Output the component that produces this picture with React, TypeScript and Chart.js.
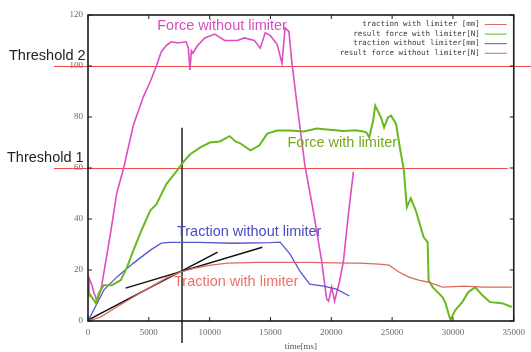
import React, { useEffect, useRef } from "react";
import { Chart, registerables } from "chart.js";
Chart.register(...registerables);

// ---- axis ticks ----
const xTickValues = [0, 5000, 10000, 15000, 20000, 25000, 30000, 35000];
const yTickValues = [0, 20, 40, 60, 80, 100, 120];

// ---- series: traction with limiter [mm] ----
const tracLimT = [0, 1060, 2360, 3740, 5130, 6430, 7570, 8790, 10090, 11480, 14000, 18000, 21490, 22300, 23930, 24750, 25560, 26370, 27190, 28000, 29140, 31010, 32400, 34840];
const tracLimV = [0, 1.6, 5.5, 9.4, 13.3, 16.8, 19.2, 20.7, 21.9, 22.7, 23, 23, 22.7, 22.7, 22.3, 21.9, 19.2, 17.2, 16, 15.2, 13.3, 13.7, 13.3, 13.3];

// ---- series: result force with limiter [N] ----
const forceLimT = [0, 80, 650, 900, 1300, 1950, 2690, 3180, 3740, 4400, 5130, 5620, 6430, 7250, 7810, 8380, 9200, 10010, 10830, 11640, 12130, 12540, 13350, 14080, 14730, 15550, 16610, 17750, 18800, 19860, 21000, 22000, 22630, 22870, 23120, 23440, 23610, 24090, 24340, 24660, 24910, 25320, 25640, 25970, 26210, 26540, 26940, 27350, 27600, 27920, 28000, 28330, 29140, 29390, 29790, 30200, 30770, 31260, 31830, 32400, 33050, 34030, 34840];
const forceLimV = [12, 11, 7, 11, 14, 14, 16, 20.7, 27.8, 35.6, 43.4, 45.7, 53.6, 58.6, 62.2, 65.3, 68, 70, 70.4, 72.5, 70.4, 69.6, 66.9, 68.8, 73.5, 74.7, 74.7, 74.3, 75.5, 75, 74.5, 74.8, 74.3, 74, 72, 78.6, 84.5, 79.8, 75.9, 79.8, 80.5, 77.4, 68, 59, 44.6, 48.1, 43.4, 36.8, 32.8, 30.9, 16, 13.3, 9.4, 7, 0.4, 4.3, 7.4, 11.3, 13.3, 10.2, 7.4, 7, 5.5];

// ---- series: traction without limiter [mm] ----
const tracNoLimT = [0, 700, 1300, 2360, 3740, 5130, 6020, 6760, 9000, 12000, 15000, 15790, 16610, 17420, 18230, 19370, 20430, 21490];
const tracNoLimV = [0, 6.5, 12.1, 17.2, 22.7, 27.8, 30.5, 30.8, 30.8, 30.5, 30.7, 30.9, 26.2, 19.6, 14.5, 13.7, 12.5, 9.8];

// ---- series: result force without limiter [N] ----
const forceNoLimT = [0, 80, 330, 490, 730, 1060, 1870, 2360, 2930, 3740, 4560, 5130, 5620, 6020, 6430, 6840, 7400, 8060, 8250, 8380, 8500, 8630, 9000, 9600, 10420, 11230, 12290, 12860, 13680, 14160, 14570, 14980, 15550, 15950, 16200, 16520, 16770, 17180, 17830, 18560, 19210, 19620, 19780, 20030, 20270, 20680, 21000, 21410, 21820];
const forceNoLimV = [10, 17, 14, 11, 8, 12, 35, 50, 60, 77, 88, 94, 100, 105.5, 108, 109.5, 109, 109.5, 107, 98.5, 106, 105, 108, 111, 112.5, 110, 110, 111, 110, 107, 113, 112, 108.5, 101, 115, 113.5, 101, 85, 61, 42, 23.5, 8.6, 7.8, 13.3, 7.8, 15.6, 23.5, 42, 58.6];

// ---- construction lines (tangents and marker) ----
const tangent1T = [0, 10660];
const tangent1V = [0.4, 27];
const tangent2T = [3090, 14330];
const tangent2V = [12.9, 28.9];
const markerT = [7730, 7730];
const markerV = [75.8, -8.6];

// ---- thresholds ----
const thresholdValues = [100, 60];
const thresholdLabels = ["Threshold 2", "Threshold 1"];

// ---- legend ----
const legendLabels = [
  "traction with limiter [mm]",
  "result force with limiter[N]",
  "traction without limiter[mm]",
  "result force without limiter[N]",
];

// ---- in-plot annotations [text, x(ms), y(value)] ----
const noteTexts = ["Force without limiter", "Force with limiter", "Traction without limiter", "Traction with limiter"];
const noteX = [5690, 16400, 7310, 7070];
const noteY = [115.7, 69.8, 34.9, 15.3];

const COL_TRAC_LIM = "#dd6a62";
const COL_FORCE_LIM = "#68b820";
const COL_TRAC_NOLIM = "#5656d0";
const COL_FORCE_NOLIM = "#e04cc2";
const seriesColors = [COL_TRAC_LIM, COL_FORCE_LIM, COL_TRAC_NOLIM, COL_FORCE_NOLIM];
const noteColors = ["#d64ebf", "#76a81c", "#4a4ac6", "#f07068"];

const pts = (t: number[], v: number[]) => t.map((x, i) => ({ x, y: v[i] }));

const decor = {
  id: "decor",
  beforeDatasetsDraw(chart: any) {
    const { ctx, chartArea, scales, width } = chart;
    const y = scales.y;
    ctx.save();
    ctx.strokeStyle = "#f04a48";
    ctx.lineWidth = 1.2;
    thresholdValues.forEach((v, i) => {
      const py = Math.round(y.getPixelForValue(v)) + 0.5;
      ctx.beginPath();
      ctx.moveTo(54, py);
      ctx.lineTo(i === 0 ? width : chartArea.right - 6, py);
      ctx.stroke();
    });
    ctx.restore();
  },
  afterDatasetsDraw(chart: any) {
    const { ctx, chartArea, scales } = chart;
    const x = scales.x;
    const y = scales.y;
    ctx.save();
    // frame
    ctx.strokeStyle = "#1a1a1a";
    ctx.lineWidth = 1.6;
    ctx.strokeRect(chartArea.left, chartArea.top, chartArea.right - chartArea.left, chartArea.bottom - chartArea.top);
    // inward ticks
    ctx.lineWidth = 1;
    ctx.beginPath();
    xTickValues.forEach((v) => {
      const px = x.getPixelForValue(v);
      ctx.moveTo(px, chartArea.bottom);
      ctx.lineTo(px, chartArea.bottom - 4);
      ctx.moveTo(px, chartArea.top);
      ctx.lineTo(px, chartArea.top + 4);
    });
    yTickValues.forEach((v) => {
      const py = y.getPixelForValue(v);
      ctx.moveTo(chartArea.left, py);
      ctx.lineTo(chartArea.left + 4, py);
      ctx.moveTo(chartArea.right, py);
      ctx.lineTo(chartArea.right - 4, py);
    });
    ctx.stroke();

    // legend (gnuplot style)
    ctx.font = '7.5px "DejaVu Sans Mono"';
    ctx.textAlign = "right";
    ctx.textBaseline = "middle";
    legendLabels.forEach((lab, i) => {
      const ly = chartArea.top + 9 + i * 9.6;
      ctx.fillStyle = "#3a3a3a";
      ctx.fillText(lab, chartArea.right - 34, ly);
      ctx.strokeStyle = seriesColors[i];
      ctx.lineWidth = 1;
      ctx.beginPath();
      ctx.moveTo(chartArea.right - 29, ly + 0.5);
      ctx.lineTo(chartArea.right - 7, ly + 0.5);
      ctx.stroke();
    });

    // annotations
    ctx.font = '14.5px "Liberation Sans"';
    ctx.textAlign = "left";
    ctx.textBaseline = "middle";
    noteTexts.forEach((t, i) => {
      ctx.fillStyle = noteColors[i];
      ctx.fillText(t, x.getPixelForValue(noteX[i]), y.getPixelForValue(noteY[i]));
    });

    // threshold labels
    ctx.fillStyle = "#222";
    ctx.font = '14.5px "Liberation Sans"';
    ctx.textBaseline = "alphabetic";
    thresholdLabels.forEach((t, i) => {
      ctx.fillText(t, i === 0 ? 9 : 7, y.getPixelForValue(thresholdValues[i]) - 6);
    });
    ctx.restore();
  },
};

export default function App() {
  const ref = useRef<HTMLCanvasElement>(null);
  useEffect(() => {
    const line = (data: any, color: string, w: number, extra: any = {}) => ({
      data,
      borderColor: color,
      backgroundColor: color,
      borderWidth: w,
      pointRadius: 0,
      tension: 0,
      fill: false,
      ...extra,
    });
    const chart = new Chart(ref.current!, {
      type: "line",
      data: {
        datasets: [
          line(pts(tracLimT, tracLimV), COL_TRAC_LIM, 1.3),
          line(pts(forceLimT, forceLimV), COL_FORCE_LIM, 2),
          line(pts(tracNoLimT, tracNoLimV), COL_TRAC_NOLIM, 1.3),
          line(pts(forceNoLimT, forceNoLimV), COL_FORCE_NOLIM, 1.6),
          line(pts(tangent1T, tangent1V), "#111", 1.5),
          line(pts(tangent2T, tangent2V), "#111", 1.5),
          line(pts(markerT, markerV), "#222", 1.5, { clip: false }),
        ],
      },
      options: {
        animation: false,
        responsive: true,
        maintainAspectRatio: false,
        layout: { padding: { left: 0, right: 12, top: 15, bottom: 0 } },
        plugins: { legend: { display: false }, tooltip: { enabled: false } },
        scales: {
          x: {
            type: "linear",
            min: 0,
            max: 35000,
            grid: { display: false, drawTicks: false },
            border: { display: false },
            afterFit: (s: any) => {
              s.height = 31;
            },
            afterBuildTicks: (s: any) => {
              s.ticks = xTickValues.map((v) => ({ value: v }));
            },
            ticks: {
              padding: 6,
              color: "#6a6a6a",
              font: { family: '"Liberation Serif"', size: 9 },
              callback: (v: any) => String(v),
              maxRotation: 0,
            },
            title: {
              display: true,
              text: "time[ms]",
              color: "#555",
              font: { family: '"Liberation Serif"', size: 9 },
              padding: { top: 0, bottom: 0 },
            },
          },
          y: {
            min: 0,
            max: 120,
            grid: { display: false, drawTicks: false },
            border: { display: false },
            afterFit: (s: any) => {
              s.width = 88;
            },
            afterBuildTicks: (s: any) => {
              s.ticks = yTickValues.map((v) => ({ value: v }));
            },
            ticks: {
              padding: 5,
              color: "#6a6a6a",
              font: { family: '"Liberation Serif"', size: 9 },
              callback: (v: any) => String(v),
            },
          },
        },
      },
      plugins: [decor],
    });
    return () => chart.destroy();
  }, []);
  return (
    <div style={{ position: "absolute", left: 0, top: 0, width: 531, height: 352, background: "#fff" }}>
      <canvas ref={ref} />
    </div>
  );
}
